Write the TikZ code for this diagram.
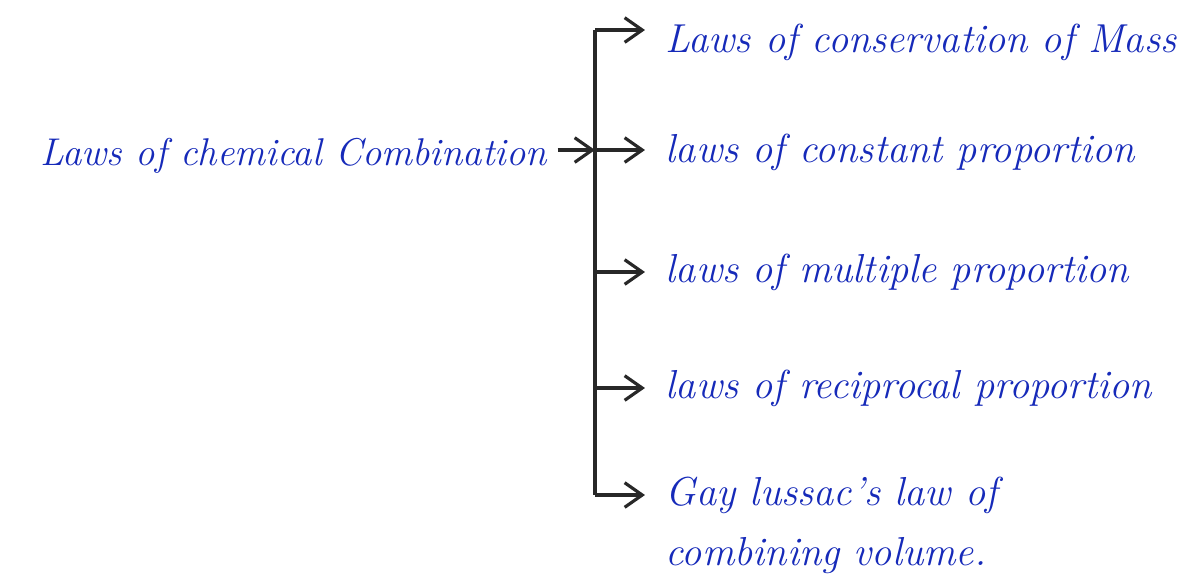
\documentclass[tikz,border=0pt]{standalone}
\usepackage{tikz}
\usetikzlibrary{positioning,arrows.meta,calc}
\definecolor{ink}{RGB}{22,42,185}
\definecolor{pencil}{RGB}{40,40,40}

\begin{document}
\begin{tikzpicture}[
  x=0.01cm, y=-0.01cm, >={Straight Barb[length=5pt,width=7pt]},
  law/.style={text=ink, font=\fontsize{11.5}{17}\selectfont\itshape,
              anchor=base west, inner sep=0pt, align=left},
  spine/.style={draw=pencil, line width=1.2pt},
  branch/.style={->, draw=pencil, line width=0.9pt, shorten >=0.2cm},
]
  \useasboundingbox (0,0) rectangle (1197,581);

  % the vertical bar and where the branches leave it
  \coordinate (jtop) at (595,30);
  \coordinate (jconst) at (595,150);
  \coordinate (jmult) at (595,272);
  \coordinate (jrecip) at (595,388);
  \coordinate (jbot) at (595,495);
  \draw[spine] (jtop) -- (jbot);

  \node[law, font=\fontsize{11}{17}\selectfont\itshape] (chem) at (40,165)
       {Laws of chemical Combination};

  \node[law] (mass) at (665,52) {Laws of conservation of Mass};
  \node[law] (const) at (665,162) {laws of constant proportion};
  \node[law] (mult) at (665,282) {laws of multiple proportion};
  \node[law] (recip) at (665,398) {laws of reciprocal proportion};
  \node[law] (gay) at (665,565) {Gay lussac's law of\\combining volume.};

  \draw[branch, shorten >=0pt, shorten <=0.1cm] (chem.east |- jconst) -- (jconst);
  \draw[branch] (jtop) -- (jtop -| mass.west);
  \draw[branch] (jconst) -- (jconst -| const.west);
  \draw[branch] (jmult) -- (jmult -| mult.west);
  \draw[branch] (jrecip) -- (jrecip -| recip.west);
  \draw[branch] (jbot) -- (jbot -| gay.west);
\end{tikzpicture}
\end{document}
